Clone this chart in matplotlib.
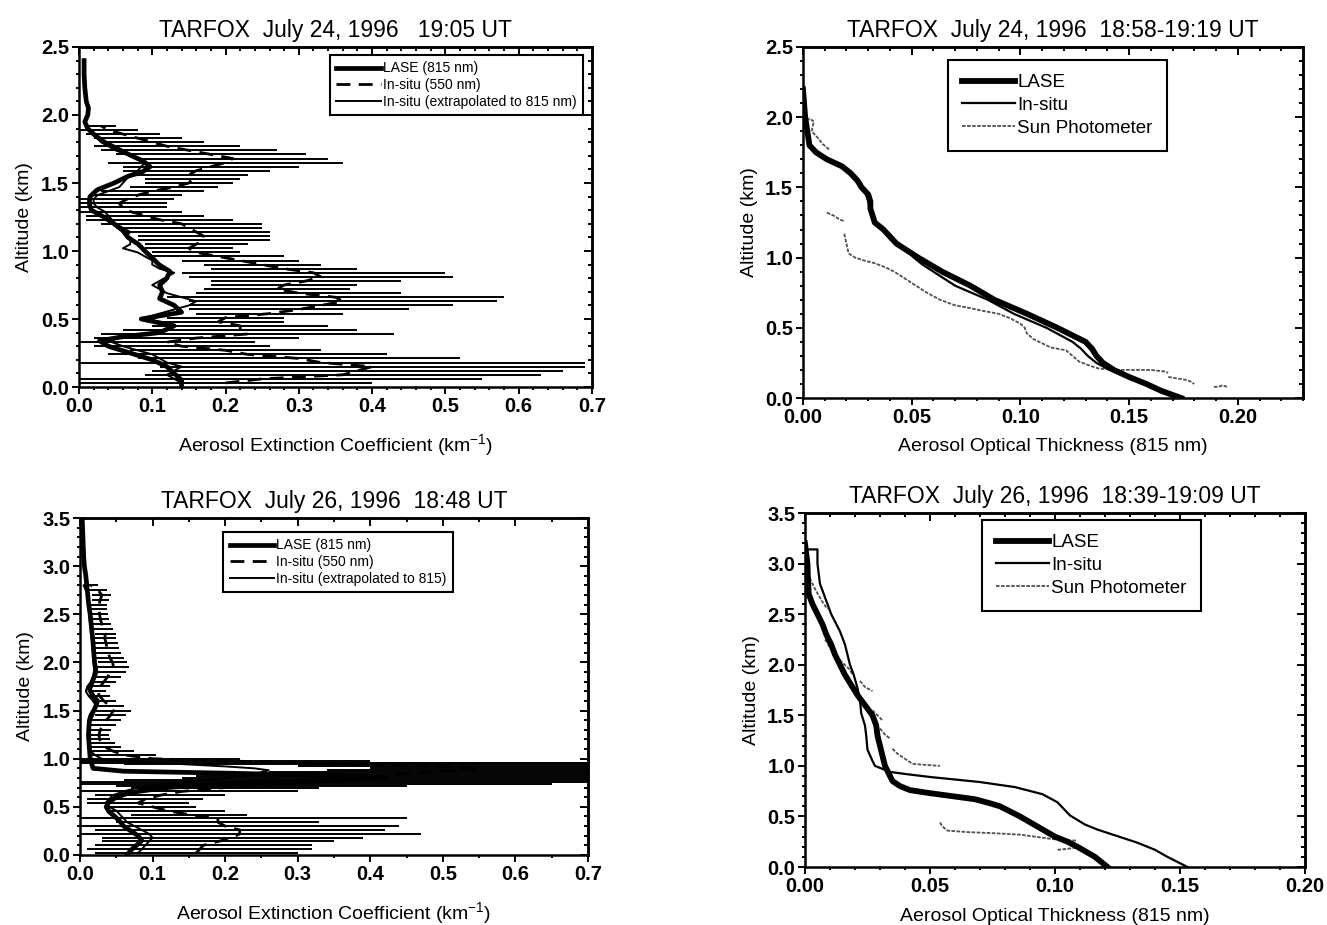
import matplotlib
matplotlib.use('Agg')
import matplotlib.pyplot as plt
import numpy as np
from matplotlib.ticker import MultipleLocator

plt.rcParams['font.family'] = ['Liberation Sans', 'DejaVu Sans']
plt.rcParams['font.weight'] = 'bold'
plt.rcParams['mathtext.default'] = 'regular'

# ---------------- July 24, extinction profile ----------------
jul24_lase_alt = [2.40, 2.30, 2.20, 2.10, 2.05, 2.00, 1.95, 1.90, 1.85, 1.80,
                  1.75, 1.70, 1.66, 1.62, 1.58, 1.55, 1.50, 1.45, 1.40, 1.35,
                  1.30, 1.25, 1.20, 1.15, 1.10, 1.05, 1.00, 0.95, 0.90, 0.85,
                  0.80, 0.75, 0.70, 0.65, 0.60, 0.55, 0.50, 0.45, 0.40, 0.37,
                  0.34, 0.30, 0.25, 0.20, 0.15, 0.10, 0.05, 0.02]
jul24_lase_ext = [0.007, 0.007, 0.008, 0.010, 0.013, 0.012, 0.008, 0.012, 0.022, 0.035,
                  0.053, 0.072, 0.088, 0.097, 0.086, 0.067, 0.048, 0.025, 0.015, 0.014,
                  0.017, 0.034, 0.048, 0.060, 0.067, 0.081, 0.090, 0.100, 0.109, 0.124,
                  0.120, 0.110, 0.114, 0.110, 0.130, 0.140, 0.085, 0.130, 0.110, 0.060,
                  0.028, 0.040, 0.070, 0.100, 0.120, 0.130, 0.140, 0.140]

jul24_situ_alt = [0.03, 0.06, 0.09, 0.12, 0.15, 0.18, 0.21, 0.24, 0.27, 0.30,
                  0.33, 0.36, 0.39, 0.42, 0.45, 0.48, 0.51, 0.54, 0.57, 0.60,
                  0.63, 0.66, 0.69, 0.72, 0.75, 0.78, 0.81, 0.84, 0.87, 0.90,
                  0.93, 0.96, 0.99, 1.02, 1.05, 1.08, 1.11, 1.14, 1.17, 1.20,
                  1.23, 1.26, 1.29, 1.32, 1.35, 1.38, 1.41, 1.44, 1.47, 1.50,
                  1.53, 1.56, 1.59, 1.62, 1.65, 1.68, 1.71, 1.74, 1.77, 1.80,
                  1.83, 1.86, 1.89, 1.92]
jul24_situ_550 = [0.20, 0.25, 0.36, 0.38, 0.40, 0.33, 0.30, 0.23, 0.20, 0.14,
                  0.12, 0.16, 0.23, 0.22, 0.22, 0.19, 0.20, 0.26, 0.30, 0.33,
                  0.36, 0.35, 0.30, 0.27, 0.28, 0.31, 0.33, 0.32, 0.28, 0.25,
                  0.22, 0.19, 0.16, 0.15, 0.16, 0.17, 0.17, 0.16, 0.15, 0.14,
                  0.11, 0.09, 0.07, 0.06, 0.055, 0.065, 0.08, 0.10, 0.13, 0.15,
                  0.155, 0.15, 0.16, 0.18, 0.20, 0.21, 0.18, 0.15, 0.12, 0.10,
                  0.08, 0.06, 0.04, 0.03]
jul24_situ_err = [0.20, 0.30, 0.27, 0.28, 0.29, 0.36, 0.22, 0.19, 0.13, 0.12,
                  0.12, 0.14, 0.20, 0.16, 0.12, 0.09, 0.08, 0.10, 0.15, 0.18,
                  0.21, 0.23, 0.14, 0.10, 0.10, 0.13, 0.18, 0.18, 0.10, 0.08,
                  0.08, 0.09, 0.06, 0.06, 0.07, 0.09, 0.09, 0.10, 0.10, 0.11,
                  0.10, 0.08, 0.07, 0.06, 0.065, 0.065, 0.06, 0.07, 0.06, 0.06,
                  0.065, 0.08, 0.10, 0.12, 0.16, 0.13, 0.13, 0.12, 0.10, 0.07,
                  0.06, 0.05, 0.04, 0.02]
jul24_situ_815 = [0.14, 0.13, 0.12, 0.13, 0.14, 0.12, 0.11, 0.10, 0.08, 0.06,
                  0.045, 0.05, 0.09, 0.12, 0.13, 0.10, 0.09, 0.11, 0.13, 0.15,
                  0.16, 0.14, 0.12, 0.11, 0.10, 0.11, 0.12, 0.13, 0.11, 0.10,
                  0.10, 0.09, 0.08, 0.06, 0.07, 0.07, 0.065, 0.07, 0.06, 0.05,
                  0.045, 0.04, 0.035, 0.025, 0.02, 0.02, 0.025, 0.04, 0.055, 0.06,
                  0.065, 0.07, 0.08, 0.085, 0.09, 0.08, 0.065, 0.05, 0.04, 0.03,
                  0.025, 0.02, 0.015, 0.012]

# ---------------- July 24, optical thickness ----------------
jul24_aot_lase_alt = [2.20, 2.10, 2.00, 1.90, 1.80, 1.75, 1.70, 1.65, 1.60, 1.55,
                      1.50, 1.45, 1.40, 1.35, 1.30, 1.25, 1.20, 1.10, 1.00, 0.90,
                      0.80, 0.70, 0.60, 0.50, 0.40, 0.35, 0.30, 0.25, 0.20, 0.15,
                      0.10, 0.05, 0.00]
jul24_aot_lase = [0.000, 0.0005, 0.001, 0.002, 0.003, 0.006, 0.011, 0.018, 0.022, 0.025,
                  0.027, 0.030, 0.031, 0.031, 0.032, 0.033, 0.037, 0.043, 0.053, 0.064,
                  0.077, 0.088, 0.103, 0.117, 0.130, 0.133, 0.135, 0.138, 0.143, 0.150,
                  0.158, 0.165, 0.174]
jul24_aot_situ_alt = [2.20, 2.10, 2.00, 1.90, 1.80, 1.75, 1.70, 1.65, 1.60, 1.55,
                      1.50, 1.45, 1.40, 1.35, 1.30, 1.25, 1.20, 1.10, 1.05, 1.00,
                      0.95, 0.90, 0.80, 0.70, 0.60, 0.50, 0.40, 0.35, 0.30, 0.25,
                      0.20, 0.15, 0.10, 0.05, 0.00]
jul24_aot_situ = [0.000, 0.0005, 0.001, 0.002, 0.003, 0.006, 0.011, 0.017, 0.021, 0.024,
                  0.027, 0.029, 0.030, 0.031, 0.032, 0.034, 0.037, 0.043, 0.048, 0.051,
                  0.055, 0.060, 0.070, 0.085, 0.097, 0.112, 0.124, 0.128, 0.131, 0.135,
                  0.141, 0.149, 0.157, 0.165, 0.174]
jul24_sun_alt = [1.95, 1.99, 1.97, 1.90, 1.85, 1.81, 1.77, np.nan,
                 1.32, 1.30, 1.27, 1.26, np.nan,
                 1.17, 1.10, 1.03, 1.00, 0.98, 0.96, 0.93, 0.90, 0.85, 0.80,
                 0.75, 0.70, 0.66, 0.64, 0.62, 0.60, 0.57, 0.53, 0.50, 0.46,
                 0.42, 0.39, 0.36, 0.34, 0.30, 0.26, 0.23, 0.21, 0.20, 0.20,
                 0.20, 0.19, 0.18, np.nan,
                 0.15, 0.14, 0.13, 0.12, 0.10, np.nan,
                 0.08, 0.08, 0.09, 0.08]
jul24_sun = [0.000, 0.003, 0.005, 0.004, 0.007, 0.009, 0.012, np.nan,
             0.011, 0.014, 0.017, 0.019, np.nan,
             0.019, 0.020, 0.021, 0.024, 0.028, 0.033, 0.038, 0.042, 0.047, 0.052,
             0.057, 0.063, 0.070, 0.077, 0.083, 0.090, 0.095, 0.100, 0.102, 0.103,
             0.106, 0.110, 0.114, 0.121, 0.124, 0.127, 0.132, 0.136, 0.143, 0.150,
             0.160, 0.166, 0.168, np.nan,
             0.168, 0.172, 0.176, 0.178, 0.180, np.nan,
             0.189, 0.191, 0.193, 0.195]

# ---------------- July 26, extinction profile ----------------
jul26_lase_alt = [3.50, 3.30, 3.10, 3.00, 2.90, 2.75, 2.60, 2.50, 2.35, 2.20,
                  2.10, 2.00, 1.90, 1.80, 1.72, 1.65, 1.60, 1.55, 1.50, 1.45,
                  1.40, 1.30, 1.20, 1.10, 1.00, 0.95, 0.90, 0.87, 0.85, 0.82,
                  0.80, 0.77, 0.74, 0.70, 0.65, 0.60, 0.55, 0.50, 0.45, 0.40,
                  0.35, 0.30, 0.25, 0.20, 0.15, 0.10, 0.05, 0.00]
jul26_lase_ext = [0.003, 0.004, 0.005, 0.006, 0.008, 0.010, 0.012, 0.014, 0.016, 0.018,
                  0.019, 0.020, 0.022, 0.017, 0.013, 0.018, 0.024, 0.022, 0.019, 0.015,
                  0.013, 0.012, 0.012, 0.013, 0.014, 0.016, 0.018, 0.060, 0.200, 0.380,
                  0.420, 0.330, 0.200, 0.120, 0.070, 0.050, 0.040, 0.036, 0.040, 0.048,
                  0.055, 0.060, 0.070, 0.080, 0.085, 0.078, 0.070, 0.065]

jul26_situ_alt = [0.02, 0.06, 0.10, 0.14, 0.18, 0.22, 0.26, 0.30, 0.34, 0.38,
                  0.42, 0.46, 0.50, 0.54, 0.58, 0.62, 0.66, 0.70, 0.72, 0.74,
                  0.76, 0.78, 0.80, 0.82, 0.84, 0.86, 0.88, 0.90, 0.92, 0.94,
                  0.96, 0.98, 1.00, 1.04, 1.08, 1.12, 1.16, 1.20, 1.25, 1.30,
                  1.35, 1.40, 1.45, 1.50, 1.55, 1.60, 1.65, 1.70, 1.75, 1.80,
                  1.85, 1.90, 1.95, 2.00, 2.05, 2.10, 2.15, 2.20, 2.25, 2.30,
                  2.35, 2.40, 2.45, 2.50, 2.55, 2.60, 2.65, 2.70, 2.75, 2.80]
jul26_situ_550 = [0.16, 0.165, 0.17, 0.19, 0.21, 0.22, 0.22, 0.20, 0.19, 0.19,
                  0.15, 0.12, 0.10, 0.08, 0.09, 0.11, 0.14, 0.20, 0.25, 0.28,
                  0.33, 0.38, 0.42, 0.43, 0.44, 0.48, 0.52, 0.55, 0.50, 0.38,
                  0.30, 0.18, 0.10, 0.06, 0.045, 0.035, 0.03, 0.027, 0.026, 0.028,
                  0.032, 0.036, 0.042, 0.046, 0.04, 0.033, 0.027, 0.024, 0.028, 0.033,
                  0.038, 0.042, 0.046, 0.045, 0.041, 0.039, 0.037, 0.036, 0.034, 0.035,
                  0.032, 0.030, 0.028, 0.027, 0.026, 0.026, 0.028, 0.030, 0.025, 0.015]
jul26_situ_err = [0.14, 0.155, 0.15, 0.16, 0.18, 0.25, 0.20, 0.24, 0.14, 0.26,
                  0.08, 0.08, 0.06, 0.07, 0.08, 0.09, 0.16, 0.13, 0.20, 0.37,
                  0.37, 0.32, 0.28, 0.27, 0.26, 0.22, 0.18, 0.15, 0.20, 0.32,
                  0.40, 0.22, 0.12, 0.045, 0.03, 0.022, 0.018, 0.015, 0.014, 0.015,
                  0.017, 0.02, 0.022, 0.024, 0.02, 0.017, 0.014, 0.012, 0.014, 0.016,
                  0.019, 0.021, 0.022, 0.02, 0.019, 0.018, 0.017, 0.016, 0.015, 0.015,
                  0.014, 0.013, 0.012, 0.012, 0.011, 0.011, 0.012, 0.013, 0.012, 0.010]
jul26_situ_815 = [0.080, 0.085, 0.090, 0.095, 0.100, 0.095, 0.085, 0.075, 0.065, 0.060,
                  0.055, 0.050, 0.040, 0.035, 0.040, 0.045, 0.060, 0.080, 0.100, 0.120,
                  0.150, 0.180, 0.200, 0.220, 0.240, 0.250, 0.260, 0.240, 0.200, 0.150,
                  0.100, 0.050, 0.030, 0.020, 0.015, 0.013, 0.012, 0.011, 0.010, 0.012,
                  0.013, 0.015, 0.018, 0.020, 0.022, 0.018, 0.012, 0.008, 0.010, 0.015,
                  0.018, 0.019, 0.020, 0.019, 0.018, 0.018, 0.017, 0.017, 0.016, 0.015,
                  0.015, 0.014, 0.013, 0.013, 0.012, 0.012, 0.012, 0.011, 0.008, 0.005]

# ---------------- July 26, optical thickness ----------------
jul26_aot_lase_alt = [3.20, 3.10, 3.00, 2.85, 2.70, 2.60, 2.50, 2.40, 2.30, 2.20,
                      2.10, 2.00, 1.90, 1.80, 1.70, 1.60, 1.50, 1.40, 1.30, 1.20,
                      1.10, 1.00, 0.90, 0.85, 0.80, 0.76, 0.73, 0.70, 0.67, 0.63,
                      0.60, 0.55, 0.50, 0.40, 0.30, 0.25, 0.20, 0.10, 0.00]
jul26_aot_lase = [0.000, 0.0005, 0.001, 0.0012, 0.0015, 0.003, 0.005, 0.007, 0.0085, 0.0105,
                  0.012, 0.014, 0.016, 0.0185, 0.021, 0.024, 0.027, 0.0285, 0.029, 0.030,
                  0.031, 0.032, 0.034, 0.035, 0.038, 0.042, 0.050, 0.059, 0.068, 0.074,
                  0.078, 0.082, 0.086, 0.093, 0.100, 0.105, 0.109, 0.116, 0.121]
jul26_aot_situ_alt = [3.20, 3.14, 3.14, 3.00, 2.80, 2.60, 2.50, 2.33, 2.20, 2.10,
                      2.00, 1.90, 1.77, 1.65, 1.52, 1.40, 1.30, 1.16, 1.05, 1.00,
                      0.97, 0.94, 0.92, 0.89, 0.84, 0.79, 0.72, 0.64, 0.51, 0.42,
                      0.37, 0.24, 0.17, 0.10, 0.00]
jul26_aot_situ = [0.000, 0.000, 0.005, 0.005, 0.006, 0.009, 0.0105, 0.014, 0.016, 0.017,
                  0.018, 0.0195, 0.021, 0.022, 0.0225, 0.024, 0.0245, 0.025, 0.027, 0.028,
                  0.031, 0.034, 0.040, 0.050, 0.070, 0.084, 0.095, 0.101, 0.106, 0.112,
                  0.117, 0.133, 0.140, 0.145, 0.153]
jul26_sun_alt = [3.00, 2.85, 2.75, 2.62, 2.55, np.nan,
                 2.25, 2.17, 2.10, 2.02, 1.95, 1.90, np.nan,
                 1.84, 1.78, 1.74, np.nan,
                 1.55, 1.50, 1.45, np.nan,
                 1.37, 1.31, 1.27, np.nan,
                 1.17, 1.12, 1.07, 1.02, 1.01, 1.00, np.nan,
                 0.44, 0.40, 0.36, 0.345, 0.335, 0.32, 0.29, 0.27, 0.26, np.nan,
                 0.17, 0.18, 0.19]
jul26_sun = [0.000, 0.002, 0.004, 0.007, 0.009, np.nan,
             0.008, 0.010, 0.012, 0.015, 0.018, 0.019, np.nan,
             0.022, 0.024, 0.027, np.nan,
             0.027, 0.029, 0.031, np.nan,
             0.030, 0.032, 0.034, np.nan,
             0.035, 0.037, 0.040, 0.043, 0.048, 0.054, np.nan,
             0.054, 0.055, 0.057, 0.065, 0.075, 0.086, 0.095, 0.101, 0.109, np.nan,
             0.101, 0.105, 0.108]


def frame(ax, xmaj, xmin, ymaj, ymin):
    ax.xaxis.set_major_locator(MultipleLocator(xmaj))
    ax.xaxis.set_minor_locator(MultipleLocator(xmin))
    ax.yaxis.set_major_locator(MultipleLocator(ymaj))
    ax.yaxis.set_minor_locator(MultipleLocator(ymin))
    ax.tick_params(which='both', direction='out', width=1.4, labelsize=14.5, pad=2)
    ax.tick_params(which='major', length=5)
    ax.tick_params(which='minor', length=2.5)
    for sp in ax.spines.values():
        sp.set_linewidth(1.8)
    top = ax.secondary_xaxis('top')
    top.xaxis.set_major_locator(MultipleLocator(xmaj))
    top.xaxis.set_minor_locator(MultipleLocator(xmin))
    top.tick_params(which='both', direction='in', width=1.4, labeltop=False)
    top.tick_params(which='major', length=6)
    top.tick_params(which='minor', length=3)
    top.spines['top'].set_linewidth(1.8)
    right = ax.secondary_yaxis('right')
    right.yaxis.set_major_locator(MultipleLocator(ymaj))
    right.yaxis.set_minor_locator(MultipleLocator(ymin))
    right.tick_params(which='both', direction='in', width=1.4, labelright=False)
    right.tick_params(which='major', length=6)
    right.tick_params(which='minor', length=3)
    right.spines['right'].set_linewidth(1.8)


def boxed_legend(ax, handles, labels, size, anchor, loc, hl, pad, spacing):
    leg = ax.legend(handles, labels, loc=loc, bbox_to_anchor=anchor,
                    prop={'size': size, 'weight': 'normal'}, handlelength=hl,
                    handletextpad=0.15, borderpad=pad, labelspacing=spacing,
                    borderaxespad=0, fancybox=False, framealpha=1)
    leg.get_frame().set_edgecolor('black')
    leg.get_frame().set_linewidth(1.5)
    return leg


def extinction_panel(ax, lase_alt, lase_val, alt, v550, err, v815, title, ytop,
                     xminor, last_label, anchor, legsize):
    ax.errorbar(v550, alt, xerr=err, fmt='none', ecolor='black',
                elinewidth=1.4, capsize=0, zorder=2)
    l550, = ax.plot(v550, alt, color='black', lw=2.0, dashes=(5, 3), zorder=3)
    l815, = ax.plot(v815, alt, color='black', lw=1.4, zorder=4)
    lase, = ax.plot(lase_val, lase_alt, color='black', lw=3.4, zorder=5)
    ax.set_xlim(0, 0.7)
    ax.set_ylim(0, ytop)
    frame(ax, 0.1, xminor, 0.5, 0.1)
    ax.set_title(title, fontsize=16.5, fontweight='normal', pad=7)
    ax.set_xlabel(r'Aerosol Extinction Coefficient (km$^{-1}$)', fontsize=14,
                  fontweight='normal', labelpad=12)
    ax.set_ylabel('Altitude (km)', fontsize=14, fontweight='normal', labelpad=6)
    boxed_legend(ax, [lase, l550, l815],
                 ['LASE (815 nm)', 'In-situ (550 nm)', last_label],
                 legsize, anchor, 'upper right', 3.2, 0.45, 0.2)


def aot_panel(ax, lase_alt, lase_val, situ_alt, situ_val, sun_alt, sun_val, title,
              ytop, xtop, anchor, xlabelpad):
    sun, = ax.plot(sun_val, sun_alt, color='#505050', lw=1.3, dashes=(2, 0.8), zorder=2)
    situ, = ax.plot(situ_val, situ_alt, color='black', lw=1.6, zorder=3)
    lase, = ax.plot(lase_val, lase_alt, color='black', lw=4.2, zorder=4)
    ax.set_xlim(0, xtop)
    ax.set_ylim(0, ytop)
    frame(ax, 0.05, 0.01, 0.5, 0.1)
    ax.set_title(title, fontsize=16.5, fontweight='normal', pad=7)
    ax.set_xlabel('Aerosol Optical Thickness (815 nm)', fontsize=14,
                  fontweight='normal', labelpad=xlabelpad)
    ax.set_ylabel('Altitude (km)', fontsize=14, fontweight='normal', labelpad=5)
    boxed_legend(ax, [lase, situ, sun], ['LASE', 'In-situ', 'Sun Photometer'],
                 13.5, anchor, 'upper left', 2.8, 0.75, 0.3)


fig = plt.figure(figsize=(13.27, 9.25), dpi=100)
ax_tl = fig.add_axes([0.0595, 0.5816, 0.3866, 0.3676])
ax_tr = fig.add_axes([0.6051, 0.5697, 0.3768, 0.3795])
ax_bl = fig.add_axes([0.0603, 0.0757, 0.3828, 0.3643])
ax_br = fig.add_axes([0.6066, 0.0627, 0.3768, 0.3827])

extinction_panel(ax_tl, jul24_lase_alt, jul24_lase_ext, jul24_situ_alt, jul24_situ_550,
                 jul24_situ_err, jul24_situ_815, 'TARFOX  July 24, 1996   19:05 UT',
                 2.5, 0.02, 'In-situ (extrapolated to 815 nm)', (0.982, 0.976), 10)
aot_panel(ax_tr, jul24_aot_lase_alt, jul24_aot_lase, jul24_aot_situ_alt, jul24_aot_situ,
          jul24_sun_alt, jul24_sun, 'TARFOX  July 24, 1996  18:58-19:19 UT',
          2.5, 0.23, (0.29, 0.963), 8)
extinction_panel(ax_bl, jul26_lase_alt, jul26_lase_ext, jul26_situ_alt, jul26_situ_550,
                 jul26_situ_err, jul26_situ_815, 'TARFOX  July 26, 1996  18:48 UT',
                 3.5, 0.05, 'In-situ (extrapolated to 815)', (0.734, 0.958), 10)
aot_panel(ax_br, jul26_aot_lase_alt, jul26_aot_lase, jul26_aot_situ_alt, jul26_aot_situ,
          jul26_sun_alt, jul26_sun, 'TARFOX  July 26, 1996  18:39-19:09 UT',
          3.5, 0.20, (0.354, 0.98), 9)

fig.savefig('out.png', dpi=100)
